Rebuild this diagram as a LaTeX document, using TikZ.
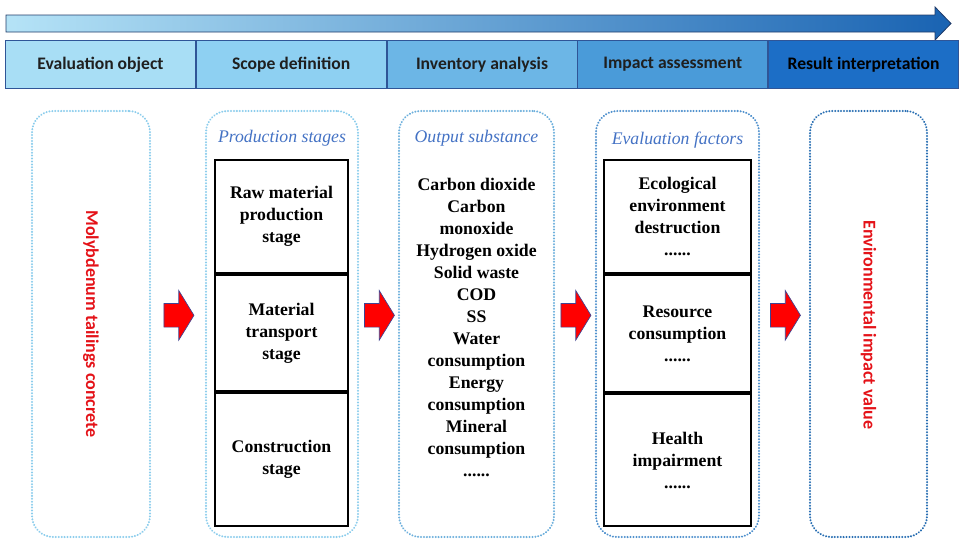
\documentclass[tikz,border=0pt]{standalone}
\usepackage{fontspec}
\setmainfont{Liberation Serif}
\newfontfamily\hdfont{Carlito}
\usepackage{xcolor}
\definecolor{lcaA}{RGB}{168,222,245}
\definecolor{lcaB}{RGB}{142,208,242}
\definecolor{lcaC}{RGB}{108,182,230}
\definecolor{lcaD}{RGB}{74,155,217}
\definecolor{lcaE}{RGB}{28,110,198}
\definecolor{lcaedge}{RGB}{47,85,151}
\definecolor{lcared}{RGB}{228,18,24}
\definecolor{lcaital}{RGB}{68,114,196}
\definecolor{dotA}{RGB}{140,205,236}
\definecolor{dotB}{RGB}{110,176,220}
\definecolor{dotC}{RGB}{80,145,205}
\definecolor{dotD}{RGB}{40,110,178}
\usepackage{tikz}
\usetikzlibrary{shapes.arrows,positioning,calc}
\tikzset{
  phase/.style={draw=lcaedge, line width=0.6pt, inner sep=0pt, minimum width=142.5pt, minimum height=36pt, font=\hdfont\bfseries\fontsize{13.2}{15}\selectfont, text=black!88},
  frame/.style={line width=1.6pt, dash pattern=on 0.1pt off 2.1pt, line cap=round, rounded corners=16pt, minimum height=319.5pt, inner sep=0pt},
  cell/.style={draw, line width=1.5pt, inner sep=0pt, align=center, font=\bfseries\fontsize{13.3}{16.5}\selectfont},
  caption/.style={font=\itshape\fontsize{13.3}{16}\selectfont, text=lcaital},
  vtxt/.style={font=\hdfont\bfseries\fontsize{13.5}{16}\selectfont, text=lcared, rotate=-90},
  blockarr/.style={single arrow, draw=lcaedge!80!violet, line width=0.5pt, fill=red, inner xsep=0pt, inner ysep=8.6pt, minimum height=22.5pt, single arrow head extend=9.75pt, single arrow tip angle=117, single arrow head indent=0pt}
}

\begin{document}
\begin{tikzpicture}[x=0.75pt, y=-0.75pt]
  \useasboundingbox (0,0) rectangle (960,543);
  % process arrow on top
  \shade[left color=lcaA!85!white, right color=lcaE!90!black, draw=lcaedge!70!black, line width=0.6pt]
    (6,15) -- (935,15) -- (935,7) -- (951,23.5) -- (935,40) -- (935,32) -- (6,32) -- cycle;

  % phase bar
  \node[phase, fill=lcaA, anchor=north west] (ph1) at (5,40) {Evaluation object};
  \node[phase, fill=lcaB, right=0pt of ph1] (ph2) {Scope definition};
  \node[phase, fill=lcaC, right=0pt of ph2] (ph3) {Inventory analysis};
  \node[phase, fill=lcaD, right=0pt of ph3] (ph4) {Impact assessment};
  \node[phase, fill=lcaE, right=0pt of ph4, text=black] (ph5) {Result interpretation};

  % dotted frames
  \node[frame, draw=dotA, minimum width=88.5pt] (obj) at (91,324) {};
  \node[frame, draw=dotA, minimum width=114pt] (scope) at (282,324) {};
  \node[frame, draw=dotB, minimum width=116.25pt] (inv) at (476.5,324) {};
  \node[frame, draw=dotC, minimum width=122.25pt] (imp) at (677.5,324) {};
  \node[frame, draw=dotD, minimum width=87.75pt] (res) at (868.5,324) {};

  \node[vtxt] (objtxt) at (obj.center) {Molybdenum tailings concrete};
  \node[vtxt] (restxt) at ($(res.center)+(0,1)$) {Environmental impact value};

  % scope definition
  \node[caption] (stcap) at (282,138) {Production stages};
  \node[cell, minimum width=99.75pt, minimum height=84.75pt, anchor=north] (st1) at (281.5,159) {Raw material\\production\\stage};
  \node[cell, minimum width=99.75pt, minimum height=87pt, below=0pt of st1] (st2) {Material\\transport\\stage};
  \node[cell, minimum width=99.75pt, minimum height=99.75pt, below=0pt of st2] (st3) {Construction\\stage};

  % inventory analysis
  \node[caption] (invcap) at (476.5,138) {Output substance};
  \node[align=center, font=\bfseries\fontsize{13.3}{16.5}\selectfont] (outlist) at (476.5,327)
    {Carbon dioxide\\Carbon\\monoxide\\Hydrogen oxide\\Solid waste\\COD\\SS\\Water\\consumption\\Energy\\consumption\\Mineral\\consumption\\......};

  % impact assessment
  \node[caption] (impcap) at (677.5,140) {Evaluation factors};
  \node[cell, minimum width=110.25pt, minimum height=84.75pt, anchor=north] (ef1) at (677.5,159) {Ecological\\environment\\destruction\\......};
  \node[cell, minimum width=110.25pt, minimum height=87.75pt, below=0pt of ef1] (ef2) {Resource\\consumption\\......};
  \node[cell, minimum width=110.25pt, minimum height=99pt, below=0pt of ef2] (ef3) {Health\\impairment\\......};

  % block arrows between frames
  \node[blockarr, xshift=-2pt, yshift=6.5pt] (a1) at ($(obj.east)!0.5!(scope.west)$) {};
  \node[blockarr, xshift=-2pt, yshift=6.5pt] (a2) at ($(scope.east)!0.5!(inv.west)$) {};
  \node[blockarr, xshift=-2pt, yshift=6.5pt] (a3) at ($(inv.east)!0.5!(imp.west)$) {};
  \node[blockarr, xshift=-2pt, yshift=6.5pt] (a4) at ($(imp.east)!0.5!(res.west)$) {};
\end{tikzpicture}
\end{document}
